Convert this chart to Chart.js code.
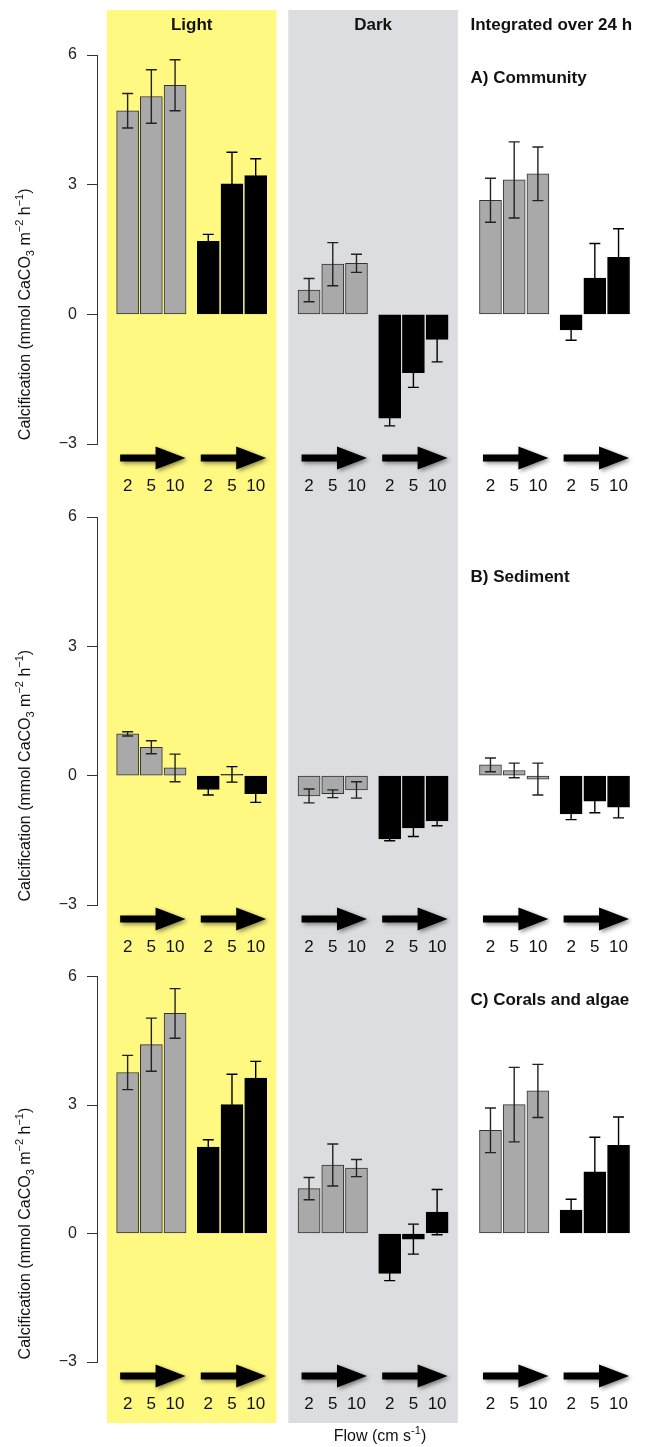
<!DOCTYPE html>
<html>
<head>
<meta charset="utf-8">
<script src="https://cdn.jsdelivr.net/npm/chart.js@4.4.0/dist/chart.umd.min.js"></script>
<style>
body { margin:0; background:#fff; }
#wrap { position:relative; width:660px; height:1447px; }
canvas { position:absolute; left:0; }
</style>
</head>
<body>
<div id="wrap">
<canvas id="panelA" width="660" height="497" style="top:0px"></canvas>
<canvas id="panelB" width="660" height="460" style="top:497px"></canvas>
<canvas id="panelC" width="660" height="490" style="top:957px"></canvas>
</div>
<script>
const conditions = ['Light', 'Dark', 'Integrated over 24 h'];
const flowLabels = ['2', '5', '10'];
const yTicks = [6, 3, 0, -3];
const panelTitles = ['A) Community', 'B) Sediment', 'C) Corals and algae'];

// order: Light 2/5/10, Dark 2/5/10, Integrated 2/5/10
const communityGray     = [4.71, 5.04, 5.30,  0.56, 1.16, 1.18,  2.64, 3.11, 3.25];
const communityGrayErr  = [0.40, 0.62, 0.59,  0.27, 0.50, 0.21,  0.51, 0.88, 0.62];
const communityBlack    = [1.69, 3.02, 3.21, -2.40, -1.35, -0.58, -0.36, 0.84, 1.32];
const communityBlackErr = [0.16, 0.73, 0.39,  0.18, 0.34, 0.52,  0.24, 0.80, 0.66];

const sedimentGray      = [0.97, 0.66, 0.18, -0.47, -0.42, -0.33,  0.25, 0.12, -0.08];
const sedimentGrayErr   = [0.05, 0.15, 0.32,  0.16, 0.09, 0.19,  0.16, 0.17, 0.37];
const sedimentBlack     = [-0.32, 0.03, -0.42, -1.47, -1.21, -1.05, -0.89, -0.59, -0.73];
const sedimentBlackErr  = [0.13, 0.18, 0.20,  0.04, 0.20, 0.11,  0.13, 0.27, 0.25];

const coralGray         = [3.76, 4.41, 5.14,  1.05, 1.60, 1.53,  2.41, 3.01, 3.33];
const coralGrayErr      = [0.40, 0.62, 0.58,  0.26, 0.49, 0.20,  0.52, 0.87, 0.62];
const coralBlack        = [2.02, 3.01, 3.63, -0.93, -0.13, 0.50,  0.55, 1.44, 2.06];
const coralBlackErr     = [0.17, 0.71, 0.39,  0.17, 0.35, 0.53,  0.25, 0.81, 0.66];

// layout (x in bar slots)
const FONT = "'Liberation Sans', Arial, Helvetica, sans-serif";
const pairGap = 3.4, condGap = 4.25;
let groupStart = [0];
for (let g = 1; g < 6; g++) groupStart.push(groupStart[g-1] + (g % 2 ? pairGap : condGap));
const xMin = -31/24, xMax = 532/24;
const bandColors = ['#fff982', '#dcdde0'];
const titleAt = [5.45, 4.6, 5.45];

let grayX = [], blackX = [];
for (let c = 0; c < 3; c++) {
    for (let i = 0; i < 3; i++) {
        grayX.push(groupStart[2*c] + i);
        blackX.push(groupStart[2*c+1] + i);
    }
}
let tickX = [];
groupStart.forEach(s => { for (let i = 0; i < 3; i++) tickX.push(s + i); });

function drawRich(ctx, parts, size, align) {
    let w = 0;
    parts.forEach(p => {
        ctx.font = (p.s ? Math.round(size*0.7) : size) + 'px ' + FONT;
        p.w = ctx.measureText(p.t).width;
        w += p.w;
    });
    let x = align === 'center' ? -w/2 : 0;
    ctx.textAlign = 'left';
    ctx.textBaseline = 'middle';
    parts.forEach(p => {
        ctx.font = (p.s ? Math.round(size*0.7) : size) + 'px ' + FONT;
        let dy = p.s === 'sub' ? size*0.3 : (p.s === 'sup' ? -size*0.38 : 0);
        ctx.fillText(p.t, x, dy);
        x += p.w;
    });
}

function drawArrow(ctx, x0, x1, y) {
    let head = 30, half = 11.5, shaft = 3.6;
    ctx.save();
    ctx.shadowColor = 'rgba(0,0,0,0.45)';
    ctx.shadowBlur = 4;
    ctx.shadowOffsetX = 2;
    ctx.shadowOffsetY = 2;
    ctx.fillStyle = '#000';
    ctx.beginPath();
    ctx.moveTo(x0, y - shaft);
    ctx.lineTo(x1 - head, y - shaft);
    ctx.lineTo(x1 - head, y - half);
    ctx.lineTo(x1, y);
    ctx.lineTo(x1 - head, y + half);
    ctx.lineTo(x1 - head, y + shaft);
    ctx.lineTo(x0, y + shaft);
    ctx.closePath();
    ctx.fill();
    ctx.restore();
}

const decor = {
    id: 'decor',
    beforeDraw(chart, args, opts) {
        let ctx = chart.ctx, xs = chart.scales.x;
        for (let b = 0; b < 2; b++) {
            let l = xs.getPixelForValue(groupStart[2*b] - 0.875);
            let r = xs.getPixelForValue(groupStart[2*b+1] + 2.875);
            ctx.fillStyle = bandColors[b];
            ctx.fillRect(l, opts.bandTop, r - l, opts.bandBottom - opts.bandTop);
        }
    },
    afterDatasetsDraw(chart) {
        let ctx = chart.ctx, ys = chart.scales.y;
        ctx.save();
        ctx.lineWidth = 1.4;
        chart.data.datasets.forEach((ds, d) => {
            ctx.strokeStyle = ds.errorColor;
            chart.getDatasetMeta(d).data.forEach((bar, i) => {
                let v = ds.data[i].y, e = ds.errors[i];
                let y1 = ys.getPixelForValue(v + e), y2 = ys.getPixelForValue(v - e);
                ctx.beginPath();
                ctx.moveTo(bar.x, y1); ctx.lineTo(bar.x, y2);
                ctx.moveTo(bar.x - 5.5, y1); ctx.lineTo(bar.x + 5.5, y1);
                ctx.moveTo(bar.x - 5.5, y2); ctx.lineTo(bar.x + 5.5, y2);
                ctx.stroke();
            });
        });
        ctx.restore();
    },
    afterDraw(chart, args, opts) {
        let ctx = chart.ctx, xs = chart.scales.x, ys = chart.scales.y, area = chart.chartArea;
        ctx.save();
        groupStart.forEach(s => {
            drawArrow(ctx, xs.getPixelForValue(s) - 7.5, xs.getPixelForValue(s + 2) + 10.5, area.bottom + 14);
        });
        ctx.fillStyle = '#111';
        let leftX = xs.getPixelForValue(groupStart[4]) - 20;
        ctx.font = 'bold 17px ' + FONT;
        ctx.textBaseline = 'middle';
        ctx.textAlign = 'left';
        ctx.fillText(panelTitles[opts.panel], leftX, ys.getPixelForValue(titleAt[opts.panel]));
        if (opts.panel === 0) {
            ctx.textAlign = 'center';
            for (let b = 0; b < 2; b++) {
                let mid = (xs.getPixelForValue(groupStart[2*b] - 0.875) + xs.getPixelForValue(groupStart[2*b+1] + 2.875)) / 2;
                ctx.fillText(conditions[b], mid, 25);
            }
            ctx.textAlign = 'left';
            ctx.fillText(conditions[2], leftX, 25);
        }
        ctx.save();
        ctx.translate(26, ys.getPixelForValue(0));
        ctx.rotate(-Math.PI/2);
        drawRich(ctx, [
            {t: 'Calcification (mmol CaCO'}, {t: '3', s: 'sub'}, {t: ' m'}, {t: '\u22122', s: 'sup'},
            {t: ' h'}, {t: '\u22121', s: 'sup'}, {t: ')'}
        ], 16, 'center');
        ctx.restore();
        if (opts.panel === 2) {
            ctx.save();
            ctx.translate(380, chart.height - 10);
            drawRich(ctx, [{t: 'Flow (cm s'}, {t: '-1', s: 'sup'}, {t: ')'}], 16, 'center');
            ctx.restore();
        }
        ctx.restore();
    }
};

function makePanel(id, panel, gray, grayErr, black, blackErr, padTop, axisH, bandTop, bandBottom) {
    return new Chart(document.getElementById(id), {
        type: 'bar',
        data: {
            datasets: [
                { data: gray.map((v, i) => ({x: grayX[i], y: v})), errors: grayErr, errorColor: '#222',
                  backgroundColor: '#a9a9a9', borderColor: '#333', borderWidth: 1 },
                { data: black.map((v, i) => ({x: blackX[i], y: v})), errors: blackErr, errorColor: '#000',
                  backgroundColor: '#000', borderColor: '#000', borderWidth: 1 }
            ]
        },
        options: {
            responsive: false,
            animation: false,
            devicePixelRatio: 1,
            barThickness: 22,
            grouped: false,
            borderSkipped: false,
            layout: { padding: { top: padTop, left: 0, right: 0, bottom: 0 } },
            plugins: {
                legend: { display: false },
                tooltip: { enabled: false },
                decor: { panel: panel, bandTop: bandTop, bandBottom: bandBottom }
            },
            scales: {
                x: {
                    type: 'linear', min: xMin, max: xMax, offset: false,
                    grid: { display: false, drawTicks: false },
                    border: { display: false },
                    afterBuildTicks: s => { s.ticks = tickX.map(v => ({value: v})); },
                    afterFit: s => { s.height = axisH; },
                    ticks: {
                        autoSkip: false, maxRotation: 0, padding: 32,
                        color: '#111', font: { size: 17, family: FONT },
                        callback: (v, i) => flowLabels[i % 3]
                    }
                },
                y: {
                    min: yTicks[yTicks.length-1], max: yTicks[0],
                    afterBuildTicks: s => { s.ticks = yTicks.map(v => ({value: v})); },
                    afterFit: s => { s.width = 97; },
                    grid: { drawOnChartArea: false, drawTicks: true, tickLength: 10, color: '#333' },
                    border: { display: true, color: '#333', width: 1 },
                    ticks: {
                        padding: 10, color: '#222', font: { size: 16, family: FONT },
                        callback: v => String(v).replace('-', '\u2212')
                    }
                }
            }
        },
        plugins: [decor]
    });
}

makePanel('panelA', 0, communityGray, communityGrayErr, communityBlack, communityBlackErr, 55, 53, 10, 497);
makePanel('panelB', 1, sedimentGray, sedimentGrayErr, sedimentBlack, sedimentBlackErr, 20, 52, 0, 460);
makePanel('panelC', 2, coralGray, coralGrayErr, coralBlack, coralBlackErr, 15, 85, 0, 466);
</script>
</body>
</html>
